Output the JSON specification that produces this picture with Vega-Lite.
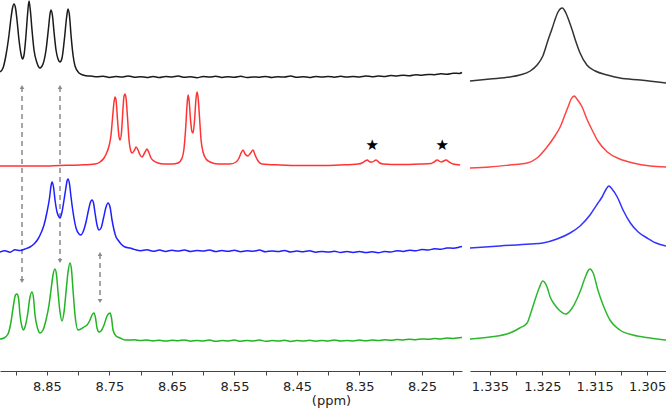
{
"$schema": "https://vega.github.io/schema/vega-lite/v6.json",
"autosize": {"type": "none"},
"padding": {"left": 0, "top": 0, "right": 0, "bottom": 41},
"width": 666, "height": 371,
"background": "white",
"config": {"view": {"stroke": null}, "font": "DejaVu Sans"},
"resolve": {"scale": {"x": "independent", "color": "independent"}, "axis": {"x": "independent"}},
"layer": [
{"data": {"values": [
{"p":8.8898,"top":284,"bot":90},
{"p":8.829,"top":284,"bot":110},
{"p":8.765,"top":117,"bot":70}
]},
 "mark": {"type": "rule", "color": "#8a8a8a", "strokeWidth": 1.5, "strokeDash": [5, 4]},
 "encoding": {"x": {"field": "p", "type": "quantitative", "axis": null, "scale": {"domain": [8.186, 8.925], "reverse": true, "range": [0, 462], "nice": false, "zero": false}},
  "y": {"field": "top", "type": "quantitative", "axis": null, "scale": {"domain": [0, 371], "nice": false, "zero": false}}, "y2": {"field": "bot"}}},
{"data": {"values": [{"p":8.8898,"v":284},{"p":8.829,"v":284},{"p":8.765,"v":117}]},
 "mark": {"type": "point", "filled": true, "color": "#8a8a8a", "size": 22, "opacity": 1, "shape": "triangle-up"},
 "encoding": {"x": {"field": "p", "type": "quantitative", "axis": null, "scale": {"domain": [8.186, 8.925], "reverse": true, "range": [0, 462], "nice": false, "zero": false}},
  "y": {"field": "v", "type": "quantitative", "axis": null, "scale": {"domain": [0, 371], "nice": false, "zero": false}}}},
{"data": {"values": [{"p":8.8898,"v":90},{"p":8.829,"v":110},{"p":8.765,"v":70}]},
 "mark": {"type": "point", "filled": true, "color": "#8a8a8a", "size": 22, "opacity": 1, "shape": "triangle-down"},
 "encoding": {"x": {"field": "p", "type": "quantitative", "axis": null, "scale": {"domain": [8.186, 8.925], "reverse": true, "range": [0, 462], "nice": false, "zero": false}},
  "y": {"field": "v", "type": "quantitative", "axis": null, "scale": {"domain": [0, 371], "nice": false, "zero": false}}}},
{"data": {"values": [
{"s":"k","p":8.925,"v":299},{"s":"k","p":8.9202,"v":303},{"s":"k","p":8.9154,"v":316},{"s":"k","p":8.9106,"v":336},{"s":"k","p":8.9074,"v":353},{"s":"k","p":8.905,"v":363},{"s":"k","p":8.9026,"v":367},{"s":"k","p":8.9002,"v":363},{"s":"k","p":8.8978,"v":351},{"s":"k","p":8.8946,"v":331},{"s":"k","p":8.8914,"v":317},{"s":"k","p":8.889,"v":312},{"s":"k","p":8.8866,"v":316},{"s":"k","p":8.8834,"v":336},{"s":"k","p":8.881,"v":356},{"s":"k","p":8.8786,"v":370},{"s":"k","p":8.8762,"v":359},{"s":"k","p":8.8738,"v":341},{"s":"k","p":8.8706,"v":321},{"s":"k","p":8.8658,"v":308},{"s":"k","p":8.861,"v":303},{"s":"k","p":8.8562,"v":307},{"s":"k","p":8.8514,"v":321},{"s":"k","p":8.8474,"v":343},{"s":"k","p":8.845,"v":357},{"s":"k","p":8.8434,"v":361},{"s":"k","p":8.841,"v":355},{"s":"k","p":8.8386,"v":339},{"s":"k","p":8.8354,"v":321},{"s":"k","p":8.8322,"v":312},{"s":"k","p":8.829,"v":309},{"s":"k","p":8.8258,"v":313},{"s":"k","p":8.8218,"v":333},{"s":"k","p":8.8186,"v":353},{"s":"k","p":8.8162,"v":362},{"s":"k","p":8.8138,"v":355},{"s":"k","p":8.8114,"v":336},{"s":"k","p":8.8082,"v":316},{"s":"k","p":8.805,"v":305},{"s":"k","p":8.7986,"v":298},{"s":"k","p":8.7922,"v":296},{"s":"k","p":8.7842,"v":295},
{"s":"k","p":8.78,"v":295.0},{"s":"k","p":8.77,"v":294.2},{"s":"k","p":8.76,"v":294.8},{"s":"k","p":8.75,"v":293.6},{"s":"k","p":8.74,"v":294.5},{"s":"k","p":8.73,"v":294.0},{"s":"k","p":8.72,"v":295.1},{"s":"k","p":8.71,"v":293.8},{"s":"k","p":8.70,"v":294.3},{"s":"k","p":8.69,"v":293.5},{"s":"k","p":8.68,"v":294.6},{"s":"k","p":8.67,"v":293.4},{"s":"k","p":8.66,"v":294.4},{"s":"k","p":8.65,"v":294.0},{"s":"k","p":8.64,"v":294.9},{"s":"k","p":8.63,"v":293.7},{"s":"k","p":8.62,"v":294.2},{"s":"k","p":8.61,"v":293.3},{"s":"k","p":8.60,"v":294.5},{"s":"k","p":8.59,"v":293.9},{"s":"k","p":8.58,"v":294.7},{"s":"k","p":8.57,"v":293.6},{"s":"k","p":8.56,"v":294.3},{"s":"k","p":8.55,"v":293.8},{"s":"k","p":8.54,"v":294.8},{"s":"k","p":8.53,"v":293.5},{"s":"k","p":8.52,"v":294.1},{"s":"k","p":8.51,"v":293.7},{"s":"k","p":8.50,"v":294.6},{"s":"k","p":8.49,"v":293.6},{"s":"k","p":8.48,"v":294.2},{"s":"k","p":8.47,"v":293.9},{"s":"k","p":8.46,"v":294.9},{"s":"k","p":8.45,"v":293.8},{"s":"k","p":8.44,"v":294.3},{"s":"k","p":8.43,"v":293.5},{"s":"k","p":8.42,"v":294.6},{"s":"k","p":8.41,"v":294.0},{"s":"k","p":8.40,"v":294.5},{"s":"k","p":8.39,"v":293.8},{"s":"k","p":8.38,"v":294.7},{"s":"k","p":8.37,"v":294.0},{"s":"k","p":8.36,"v":294.6},{"s":"k","p":8.35,"v":294.1},{"s":"k","p":8.34,"v":295.0},{"s":"k","p":8.33,"v":294.3},{"s":"k","p":8.32,"v":294.9},{"s":"k","p":8.31,"v":294.5},{"s":"k","p":8.30,"v":295.6},{"s":"k","p":8.29,"v":295.0},{"s":"k","p":8.28,"v":295.8},{"s":"k","p":8.27,"v":295.3},{"s":"k","p":8.26,"v":296.3},{"s":"k","p":8.25,"v":295.8},{"s":"k","p":8.24,"v":296.6},{"s":"k","p":8.23,"v":296.3},{"s":"k","p":8.22,"v":297.2},{"s":"k","p":8.21,"v":296.8},{"s":"k","p":8.20,"v":297.8},{"s":"k","p":8.19,"v":297.6},{"s":"k","p":8.186,"v":298.5},
{"s":"r","p":8.925,"v":205},{"s":"r","p":8.893,"v":205},{"s":"r","p":8.861,"v":205},{"s":"r","p":8.829,"v":205.5},{"s":"r","p":8.797,"v":206},{"s":"r","p":8.773,"v":207},{"s":"r","p":8.765,"v":209},{"s":"r","p":8.7586,"v":213},{"s":"r","p":8.7538,"v":219},{"s":"r","p":8.7506,"v":225},{"s":"r","p":8.7474,"v":236},{"s":"r","p":8.745,"v":253},{"s":"r","p":8.7426,"v":269},{"s":"r","p":8.741,"v":274},{"s":"r","p":8.7394,"v":271},{"s":"r","p":8.737,"v":251},{"s":"r","p":8.7346,"v":234},{"s":"r","p":8.733,"v":231},{"s":"r","p":8.7306,"v":239},{"s":"r","p":8.7282,"v":263},{"s":"r","p":8.7266,"v":275},{"s":"r","p":8.725,"v":277},{"s":"r","p":8.7234,"v":273},{"s":"r","p":8.721,"v":253},{"s":"r","p":8.7186,"v":231},{"s":"r","p":8.7162,"v":221},{"s":"r","p":8.7138,"v":218},{"s":"r","p":8.7098,"v":221},{"s":"r","p":8.7074,"v":224},{"s":"r","p":8.7042,"v":221},{"s":"r","p":8.701,"v":216},{"s":"r","p":8.6978,"v":214},{"s":"r","p":8.693,"v":219},{"s":"r","p":8.6898,"v":222},{"s":"r","p":8.6866,"v":218},{"s":"r","p":8.6834,"v":213},{"s":"r","p":8.6786,"v":210},{"s":"r","p":8.6722,"v":208},{"s":"r","p":8.6626,"v":207},{"s":"r","p":8.6498,"v":207},{"s":"r","p":8.6402,"v":208},{"s":"r","p":8.6338,"v":213},{"s":"r","p":8.6306,"v":223},{"s":"r","p":8.6282,"v":241},{"s":"r","p":8.6258,"v":266},{"s":"r","p":8.6242,"v":276},{"s":"r","p":8.6226,"v":271},{"s":"r","p":8.6202,"v":251},{"s":"r","p":8.6178,"v":239},{"s":"r","p":8.6162,"v":238},{"s":"r","p":8.6138,"v":251},{"s":"r","p":8.6114,"v":273},{"s":"r","p":8.6098,"v":279},{"s":"r","p":8.6082,"v":274},{"s":"r","p":8.6058,"v":253},{"s":"r","p":8.6034,"v":231},{"s":"r","p":8.6002,"v":219},{"s":"r","p":8.5954,"v":212},{"s":"r","p":8.589,"v":209},{"s":"r","p":8.5762,"v":207},{"s":"r","p":8.557,"v":207},{"s":"r","p":8.5474,"v":209},{"s":"r","p":8.5426,"v":213},{"s":"r","p":8.5394,"v":218},{"s":"r","p":8.5362,"v":221},{"s":"r","p":8.533,"v":217},{"s":"r","p":8.5282,"v":215},{"s":"r","p":8.5242,"v":218},{"s":"r","p":8.5202,"v":221},{"s":"r","p":8.517,"v":216},{"s":"r","p":8.5122,"v":210},{"s":"r","p":8.5058,"v":207},{"s":"r","p":8.477,"v":206},{"s":"r","p":8.445,"v":205.5},{"s":"r","p":8.413,"v":205.5},{"s":"r","p":8.381,"v":206},{"s":"r","p":8.3522,"v":207},{"s":"r","p":8.3458,"v":208},{"s":"r","p":8.341,"v":210},{"s":"r","p":8.3378,"v":211},{"s":"r","p":8.333,"v":209},{"s":"r","p":8.3298,"v":209},{"s":"r","p":8.3234,"v":211},{"s":"r","p":8.3186,"v":208.5},{"s":"r","p":8.3122,"v":207},{"s":"r","p":8.285,"v":206.5},{"s":"r","p":8.253,"v":207},{"s":"r","p":8.2354,"v":207.5},{"s":"r","p":8.2306,"v":209},{"s":"r","p":8.2258,"v":211},{"s":"r","p":8.2194,"v":209},{"s":"r","p":8.2114,"v":211},{"s":"r","p":8.2066,"v":209},{"s":"r","p":8.2002,"v":207},{"s":"r","p":8.189,"v":206},
{"s":"b","p":8.925,"v":119},{"s":"b","p":8.917,"v":120.3},{"s":"b","p":8.909,"v":118.8},{"s":"b","p":8.901,"v":121.2},{"s":"b","p":8.893,"v":120.5},{"s":"b","p":8.885,"v":122},{"s":"b","p":8.877,"v":124},{"s":"b","p":8.8706,"v":127},{"s":"b","p":8.8642,"v":132},{"s":"b","p":8.8594,"v":138},{"s":"b","p":8.8546,"v":146},{"s":"b","p":8.8498,"v":159},{"s":"b","p":8.8458,"v":173},{"s":"b","p":8.8434,"v":185},{"s":"b","p":8.8418,"v":189},{"s":"b","p":8.8394,"v":184},{"s":"b","p":8.837,"v":171},{"s":"b","p":8.8338,"v":159},{"s":"b","p":8.8306,"v":154},{"s":"b","p":8.829,"v":153},{"s":"b","p":8.8258,"v":159},{"s":"b","p":8.8226,"v":171},{"s":"b","p":8.8194,"v":184},{"s":"b","p":8.8178,"v":190},{"s":"b","p":8.8162,"v":192},{"s":"b","p":8.8138,"v":187},{"s":"b","p":8.8114,"v":174},{"s":"b","p":8.8082,"v":159},{"s":"b","p":8.8034,"v":143},{"s":"b","p":8.7986,"v":137},{"s":"b","p":8.7954,"v":136},{"s":"b","p":8.7922,"v":139},{"s":"b","p":8.7874,"v":149},{"s":"b","p":8.7834,"v":161},{"s":"b","p":8.7802,"v":169},{"s":"b","p":8.7778,"v":171},{"s":"b","p":8.7754,"v":168},{"s":"b","p":8.773,"v":158},{"s":"b","p":8.7698,"v":146},{"s":"b","p":8.7666,"v":141},{"s":"b","p":8.7634,"v":143},{"s":"b","p":8.7594,"v":153},{"s":"b","p":8.7554,"v":164},{"s":"b","p":8.7522,"v":168},{"s":"b","p":8.749,"v":164},{"s":"b","p":8.7458,"v":151},{"s":"b","p":8.7426,"v":141},{"s":"b","p":8.7394,"v":134},{"s":"b","p":8.7362,"v":131},{"s":"b","p":8.7314,"v":127},{"s":"b","p":8.725,"v":124},{"s":"b","p":8.717,"v":123},
{"s":"b","p":8.71,"v":121.6},{"s":"b","p":8.70,"v":120.3},{"s":"b","p":8.69,"v":121.2},{"s":"b","p":8.68,"v":119.8},{"s":"b","p":8.67,"v":120.9},{"s":"b","p":8.66,"v":119.6},{"s":"b","p":8.65,"v":120.7},{"s":"b","p":8.64,"v":120.0},{"s":"b","p":8.63,"v":121.1},{"s":"b","p":8.62,"v":119.5},{"s":"b","p":8.61,"v":120.4},{"s":"b","p":8.60,"v":119.9},{"s":"b","p":8.59,"v":121.0},{"s":"b","p":8.58,"v":119.4},{"s":"b","p":8.57,"v":120.5},{"s":"b","p":8.56,"v":119.7},{"s":"b","p":8.55,"v":120.8},{"s":"b","p":8.54,"v":119.3},{"s":"b","p":8.53,"v":120.2},{"s":"b","p":8.52,"v":119.8},{"s":"b","p":8.51,"v":120.9},{"s":"b","p":8.50,"v":119.2},{"s":"b","p":8.49,"v":120.1},{"s":"b","p":8.48,"v":119.5},{"s":"b","p":8.47,"v":120.6},{"s":"b","p":8.46,"v":119.0},{"s":"b","p":8.45,"v":119.9},{"s":"b","p":8.44,"v":119.3},{"s":"b","p":8.43,"v":120.2},{"s":"b","p":8.42,"v":118.8},{"s":"b","p":8.41,"v":119.6},{"s":"b","p":8.40,"v":118.9},{"s":"b","p":8.39,"v":119.8},{"s":"b","p":8.38,"v":118.5},{"s":"b","p":8.37,"v":119.4},{"s":"b","p":8.36,"v":118.6},{"s":"b","p":8.35,"v":119.5},{"s":"b","p":8.34,"v":118.4},{"s":"b","p":8.33,"v":119.2},{"s":"b","p":8.32,"v":118.3},{"s":"b","p":8.31,"v":119.5},{"s":"b","p":8.30,"v":119.0},{"s":"b","p":8.29,"v":120.2},{"s":"b","p":8.28,"v":119.6},{"s":"b","p":8.27,"v":120.8},{"s":"b","p":8.26,"v":120.3},{"s":"b","p":8.25,"v":121.5},{"s":"b","p":8.24,"v":121.0},{"s":"b","p":8.23,"v":122.2},{"s":"b","p":8.22,"v":121.8},{"s":"b","p":8.21,"v":123.0},{"s":"b","p":8.20,"v":122.8},{"s":"b","p":8.19,"v":123.9},{"s":"b","p":8.186,"v":124.5},
{"s":"g","p":8.925,"v":32},{"s":"g","p":8.9186,"v":33},{"s":"g","p":8.9122,"v":37},{"s":"g","p":8.9074,"v":49},{"s":"g","p":8.9034,"v":66},{"s":"g","p":8.9002,"v":76},{"s":"g","p":8.8978,"v":77},{"s":"g","p":8.8954,"v":73},{"s":"g","p":8.893,"v":56},{"s":"g","p":8.8898,"v":44},{"s":"g","p":8.8874,"v":41},{"s":"g","p":8.885,"v":44},{"s":"g","p":8.881,"v":56},{"s":"g","p":8.877,"v":74},{"s":"g","p":8.8738,"v":79},{"s":"g","p":8.8714,"v":73},{"s":"g","p":8.869,"v":56},{"s":"g","p":8.865,"v":43},{"s":"g","p":8.861,"v":38},{"s":"g","p":8.8562,"v":41},{"s":"g","p":8.8514,"v":51},{"s":"g","p":8.8466,"v":66},{"s":"g","p":8.8434,"v":81},{"s":"g","p":8.8402,"v":96},{"s":"g","p":8.837,"v":102},{"s":"g","p":8.8346,"v":96},{"s":"g","p":8.8322,"v":79},{"s":"g","p":8.829,"v":59},{"s":"g","p":8.8258,"v":50},{"s":"g","p":8.8226,"v":59},{"s":"g","p":8.8194,"v":79},{"s":"g","p":8.8162,"v":99},{"s":"g","p":8.813,"v":108},{"s":"g","p":8.8106,"v":101},{"s":"g","p":8.8082,"v":81},{"s":"g","p":8.805,"v":56},{"s":"g","p":8.8002,"v":41},{"s":"g","p":8.7954,"v":42},{"s":"g","p":8.7906,"v":44},{"s":"g","p":8.7858,"v":46},{"s":"g","p":8.781,"v":51},{"s":"g","p":8.7778,"v":56},{"s":"g","p":8.7746,"v":58},{"s":"g","p":8.7722,"v":53},{"s":"g","p":8.7698,"v":43},{"s":"g","p":8.7666,"v":39},{"s":"g","p":8.7634,"v":40},{"s":"g","p":8.7586,"v":46},{"s":"g","p":8.7538,"v":55},{"s":"g","p":8.749,"v":58},{"s":"g","p":8.7466,"v":53},{"s":"g","p":8.7442,"v":41},{"s":"g","p":8.7394,"v":35},{"s":"g","p":8.733,"v":33},{"s":"g","p":8.725,"v":31},{"s":"g","p":8.717,"v":31},
{"s":"g","p":8.71,"v":31.2},{"s":"g","p":8.70,"v":30.4},{"s":"g","p":8.69,"v":31.0},{"s":"g","p":8.68,"v":30.1},{"s":"g","p":8.67,"v":30.8},{"s":"g","p":8.66,"v":29.9},{"s":"g","p":8.65,"v":30.7},{"s":"g","p":8.64,"v":30.2},{"s":"g","p":8.63,"v":31.1},{"s":"g","p":8.62,"v":29.8},{"s":"g","p":8.61,"v":30.6},{"s":"g","p":8.60,"v":30.0},{"s":"g","p":8.59,"v":30.9},{"s":"g","p":8.58,"v":29.7},{"s":"g","p":8.57,"v":30.5},{"s":"g","p":8.56,"v":30.1},{"s":"g","p":8.55,"v":30.9},{"s":"g","p":8.54,"v":29.8},{"s":"g","p":8.53,"v":30.6},{"s":"g","p":8.52,"v":30.0},{"s":"g","p":8.51,"v":31.0},{"s":"g","p":8.50,"v":29.7},{"s":"g","p":8.49,"v":30.4},{"s":"g","p":8.48,"v":29.9},{"s":"g","p":8.47,"v":30.8},{"s":"g","p":8.46,"v":29.6},{"s":"g","p":8.45,"v":30.5},{"s":"g","p":8.44,"v":29.9},{"s":"g","p":8.43,"v":30.7},{"s":"g","p":8.42,"v":29.8},{"s":"g","p":8.41,"v":30.6},{"s":"g","p":8.40,"v":30.0},{"s":"g","p":8.39,"v":30.9},{"s":"g","p":8.38,"v":29.9},{"s":"g","p":8.37,"v":30.6},{"s":"g","p":8.36,"v":30.1},{"s":"g","p":8.35,"v":30.9},{"s":"g","p":8.34,"v":30.2},{"s":"g","p":8.33,"v":31.0},{"s":"g","p":8.32,"v":30.4},{"s":"g","p":8.31,"v":31.2},{"s":"g","p":8.30,"v":30.7},{"s":"g","p":8.29,"v":31.5},{"s":"g","p":8.28,"v":31.0},{"s":"g","p":8.27,"v":31.8},{"s":"g","p":8.26,"v":31.3},{"s":"g","p":8.25,"v":32.1},{"s":"g","p":8.24,"v":31.7},{"s":"g","p":8.23,"v":32.5},{"s":"g","p":8.22,"v":32.1},{"s":"g","p":8.21,"v":32.9},{"s":"g","p":8.20,"v":32.6},{"s":"g","p":8.19,"v":33.3},{"s":"g","p":8.186,"v":33.5}
]},
 "mark": {"type": "line", "strokeWidth": 1.5, "interpolate": "monotone"},
 "encoding": {
  "x": {"field": "p", "type": "quantitative", "scale": {"domain": [8.186, 8.925], "reverse": true, "range": [0, 462], "nice": false, "zero": false},
   "axis": {"orient": "bottom", "title": "(ppm)", "titleX": 331, "titleY": 23, "titleAlign": "center", "titleBaseline": "top", "titleFontSize": 13, "titleFontWeight": "normal", "titleColor": "#222",
    "grid": false, "values": [8.9, 8.85, 8.8, 8.75, 8.7, 8.65, 8.6, 8.55, 8.5, 8.45, 8.4, 8.35, 8.3, 8.25, 8.2],
    "labelExpr": "round(datum.value*100) % 10 == 5 ? format(datum.value, '.2f') : ''",
    "tickSize": 4, "tickColor": "#444", "domainColor": "#444", "labelFontSize": 13, "labelColor": "#222", "labelPadding": 5, "labelFlush": false}},
  "y": {"field": "v", "type": "quantitative", "scale": {"domain": [0, 371], "nice": false, "zero": false}, "axis": null},
  "color": {"field": "s", "type": "nominal", "legend": null, "scale": {"domain": ["k", "r", "b", "g"], "range": ["#1a1a1a", "#ff3333", "#1f1fff", "#22b422"]}}
 }},
{"data": {"values": [{"p":8.3298,"v":226,"t":"★"},{"p":8.2178,"v":226,"t":"★"}]},
 "mark": {"type": "text", "fontSize": 15, "color": "#000", "baseline": "middle", "align": "center"},
 "encoding": {"x": {"field": "p", "type": "quantitative", "axis": null, "scale": {"domain": [8.186, 8.925], "reverse": true, "range": [0, 462], "nice": false, "zero": false}},
  "y": {"field": "v", "type": "quantitative", "axis": null, "scale": {"domain": [0, 371], "nice": false, "zero": false}}, "text": {"field": "t", "type": "nominal"}}},
{"data": {"values": [
{"s":"k","p":1.3388,"v":290},{"s":"k","p":1.3350,"v":292},{"s":"k","p":1.3312,"v":294},{"s":"k","p":1.3293,"v":296},{"s":"k","p":1.3273,"v":300},{"s":"k","p":1.3260,"v":306},{"s":"k","p":1.3249,"v":315},{"s":"k","p":1.3239,"v":331},{"s":"k","p":1.3231,"v":343},{"s":"k","p":1.3226,"v":351},{"s":"k","p":1.3220,"v":359},{"s":"k","p":1.3212,"v":363},{"s":"k","p":1.3205,"v":358},{"s":"k","p":1.3199,"v":350},{"s":"k","p":1.3193,"v":341},{"s":"k","p":1.3187,"v":331},{"s":"k","p":1.3178,"v":318},{"s":"k","p":1.3165,"v":306},{"s":"k","p":1.3149,"v":300},{"s":"k","p":1.3126,"v":296},{"s":"k","p":1.3102,"v":293},{"s":"k","p":1.3063,"v":291},{"s":"k","p":1.3014,"v":288},
{"s":"r","p":1.3388,"v":203},{"s":"r","p":1.3350,"v":204},{"s":"r","p":1.3312,"v":206},{"s":"r","p":1.3279,"v":208},{"s":"r","p":1.3260,"v":213},{"s":"r","p":1.3241,"v":224},{"s":"r","p":1.3226,"v":235},{"s":"r","p":1.3216,"v":244},{"s":"r","p":1.3207,"v":256},{"s":"r","p":1.3201,"v":264},{"s":"r","p":1.3195,"v":272},{"s":"r","p":1.3189,"v":275},{"s":"r","p":1.3184,"v":272},{"s":"r","p":1.3174,"v":264},{"s":"r","p":1.3165,"v":252},{"s":"r","p":1.3155,"v":241},{"s":"r","p":1.3144,"v":230},{"s":"r","p":1.3126,"v":219},{"s":"r","p":1.3102,"v":212},{"s":"r","p":1.3077,"v":208},{"s":"r","p":1.3044,"v":205},{"s":"r","p":1.3014,"v":204},
{"s":"b","p":1.3388,"v":123},{"s":"b","p":1.3331,"v":125},{"s":"b","p":1.3273,"v":127},{"s":"b","p":1.3249,"v":128},{"s":"b","p":1.3222,"v":132},{"s":"b","p":1.3197,"v":138},{"s":"b","p":1.3178,"v":145},{"s":"b","p":1.3159,"v":156},{"s":"b","p":1.3145,"v":167},{"s":"b","p":1.3136,"v":174},{"s":"b","p":1.3128,"v":182},{"s":"b","p":1.3123,"v":185},{"s":"b","p":1.3117,"v":182},{"s":"b","p":1.3107,"v":174},{"s":"b","p":1.3096,"v":161},{"s":"b","p":1.3082,"v":148},{"s":"b","p":1.3067,"v":139},{"s":"b","p":1.3050,"v":133},{"s":"b","p":1.3033,"v":128},{"s":"b","p":1.3014,"v":125},
{"s":"g","p":1.3388,"v":32},{"s":"g","p":1.3350,"v":34},{"s":"g","p":1.3312,"v":38},{"s":"g","p":1.3293,"v":43},{"s":"g","p":1.3279,"v":48},{"s":"g","p":1.3272,"v":58},{"s":"g","p":1.3264,"v":71},{"s":"g","p":1.3256,"v":83},{"s":"g","p":1.3249,"v":90},{"s":"g","p":1.3241,"v":84},{"s":"g","p":1.3235,"v":74},{"s":"g","p":1.3226,"v":66},{"s":"g","p":1.3216,"v":60},{"s":"g","p":1.3205,"v":57},{"s":"g","p":1.3193,"v":63},{"s":"g","p":1.3184,"v":72},{"s":"g","p":1.3176,"v":82},{"s":"g","p":1.3168,"v":94},{"s":"g","p":1.3163,"v":100},{"s":"g","p":1.3159,"v":102},{"s":"g","p":1.3153,"v":98},{"s":"g","p":1.3144,"v":81},{"s":"g","p":1.3134,"v":66},{"s":"g","p":1.3121,"v":51},{"s":"g","p":1.3102,"v":41},{"s":"g","p":1.3077,"v":36},{"s":"g","p":1.3044,"v":33},{"s":"g","p":1.3014,"v":31}
]},
"mark": {"type": "line", "strokeWidth": 1.5, "interpolate": "monotone"},
"encoding": {
 "x": {"field": "p", "type": "quantitative", "scale": {"domain": [1.3014, 1.3388], "reverse": true, "range": [470, 666], "nice": false, "zero": false},
  "axis": {"orient": "bottom", "title": null, "grid": false, "values": [1.335, 1.33, 1.325, 1.32, 1.315, 1.31, 1.305],
   "labelExpr": "round(datum.value*1000) % 10 == 5 ? format(datum.value, '.3f') : ''",
   "tickSize": 4, "tickColor": "#444", "domainColor": "#444", "labelFontSize": 13, "labelColor": "#222", "labelPadding": 5, "labelFlush": false}},
 "y": {"field": "v", "type": "quantitative", "scale": {"domain": [0, 371], "nice": false, "zero": false}, "axis": null},
 "color": {"field": "s", "type": "nominal", "legend": null, "scale": {"domain": ["k", "r", "b", "g"], "range": ["#333333", "#ff4444", "#3333ff", "#2db82d"]}}
}
}
]
}
